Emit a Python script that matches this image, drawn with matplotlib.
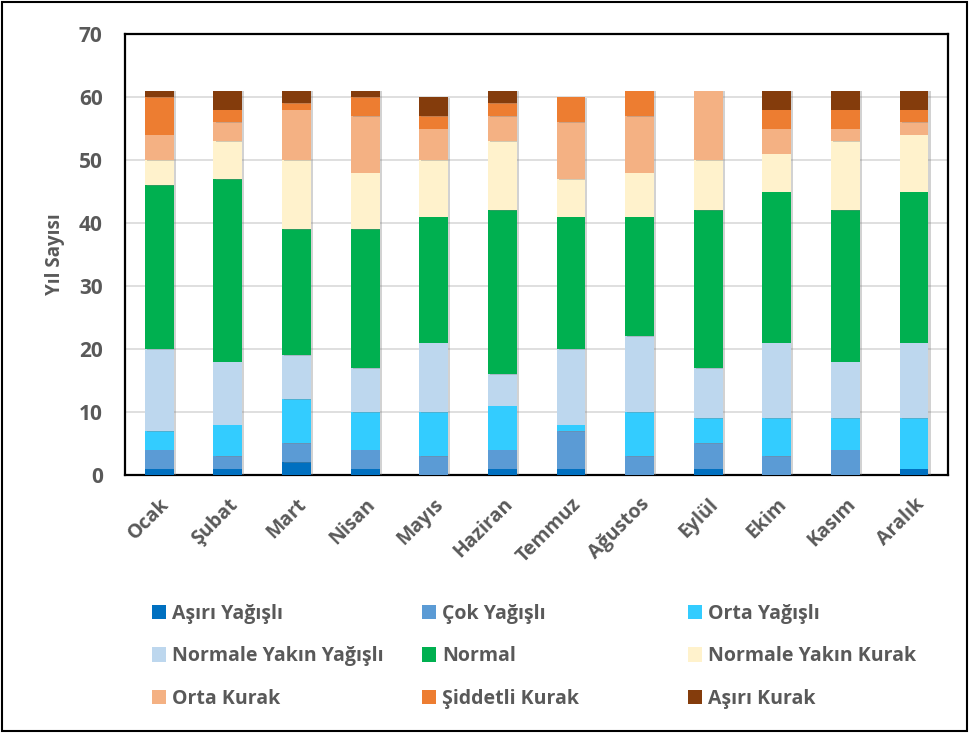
import matplotlib
matplotlib.use("Agg")
import matplotlib.pyplot as plt
import numpy as np
from matplotlib.patches import Patch, Rectangle
from matplotlib import patheffects as pe

plt.rcParams['font.family'] = ['Open Sans', 'DejaVu Sans']

months = ["Ocak", "Şubat", "Mart", "Nisan", "Mayıs", "Haziran",
          "Temmuz", "Ağustos", "Eylül", "Ekim", "Kasım", "Aralık"]

categories = ["Aşırı Yağışlı", "Çok Yağışlı", "Orta Yağışlı",
              "Normale Yakın Yağışlı", "Normal", "Normale Yakın Kurak",
              "Orta Kurak", "Şiddetli Kurak", "Aşırı Kurak"]

colors = ["#0070C0", "#5B9BD5", "#33CCFF", "#BDD7EE", "#00B050",
          "#FFF2CC", "#F4B183", "#ED7D31", "#843C0C"]

asiri_yagisli   = [1, 1, 2, 1, 0, 1, 1, 0, 1, 0, 0, 1]
cok_yagisli     = [3, 2, 3, 3, 3, 3, 6, 3, 4, 3, 4, 0]
orta_yagisli    = [3, 5, 7, 6, 7, 7, 1, 7, 4, 6, 5, 8]
nyakin_yagisli  = [13, 10, 7, 7, 11, 5, 12, 12, 8, 12, 9, 12]
normal          = [26, 29, 20, 22, 20, 26, 21, 19, 25, 24, 24, 24]
nyakin_kurak    = [4, 6, 11, 9, 9, 11, 6, 7, 8, 6, 11, 9]
orta_kurak      = [4, 3, 8, 9, 5, 4, 9, 9, 11, 4, 2, 2]
siddetli_kurak  = [6, 2, 1, 3, 2, 2, 4, 4, 0, 3, 3, 2]
asiri_kurak     = [1, 3, 2, 1, 3, 2, 0, 0, 0, 3, 3, 3]

series = [asiri_yagisli, cok_yagisli, orta_yagisli, nyakin_yagisli, normal,
          nyakin_kurak, orta_kurak, siddetli_kurak, asiri_kurak]

yticks = [0, 10, 20, 30, 40, 50, 60, 70]

text_gray = "#595959"

fig = plt.figure(figsize=(9.71, 7.33), dpi=100)
ax = fig.add_axes([0.1287, 0.352, 0.848, 0.6016])

x = np.arange(len(months))
bottom = np.zeros(len(months))
shadow = [pe.SimplePatchShadow(offset=(1.5, -0.5), shadow_rgbFace="#7f7f7f", alpha=0.35), pe.Normal()]
for vals, col in zip(series, colors):
    vals = np.array(vals, dtype=float)
    bars = ax.bar(x, vals, bottom=bottom, width=0.42, color=col, zorder=3)
    for b in bars:
        b.set_path_effects(shadow)
    bottom += vals

ax.set_xlim(-0.5, len(months) - 0.5)
ax.set_ylim(0, 70)
ax.set_yticks(yticks)
ax.set_xticks(x)
ax.set_xticklabels(months, rotation=45, ha="right", rotation_mode="anchor",
                   fontsize=14, fontweight="bold", color=text_gray)
ax.set_yticklabels([str(t) for t in yticks], fontsize=15, fontweight="bold",
                   color=text_gray)
ax.tick_params(axis="both", length=0)
ax.tick_params(axis="y", pad=16)
ax.tick_params(axis="x", pad=14)
ax.yaxis.grid(True, color="#D9D9D9", linewidth=1.2, zorder=0)
ax.set_axisbelow(True)
for s in ax.spines.values():
    s.set_color("black")
    s.set_linewidth(1.6)
ax.set_ylabel("Yıl Sayısı", fontsize=13.5, fontweight="bold", color=text_gray,
              labelpad=10)

handles = [Patch(facecolor=c, edgecolor="none") for c in colors]
col_x = [0.157, 0.435, 0.709]
for j in range(3):
    idx = [j, j + 3, j + 6]
    fig.legend([handles[i] for i in idx], [categories[i] for i in idx],
               loc="upper left", bbox_to_anchor=(col_x[j], 0.176), frameon=False,
               ncol=1, prop={"weight": "bold", "size": 14},
               labelcolor=text_gray, handlelength=0.7, handleheight=0.75,
               handletextpad=0.3, labelspacing=1.15, borderaxespad=0,
               borderpad=0)

fig.add_artist(Rectangle((0.002, 0.003), 0.994, 0.994, transform=fig.transFigure,
                         fill=False, edgecolor="black", linewidth=1.5))

fig.savefig("out.png", dpi=100)
